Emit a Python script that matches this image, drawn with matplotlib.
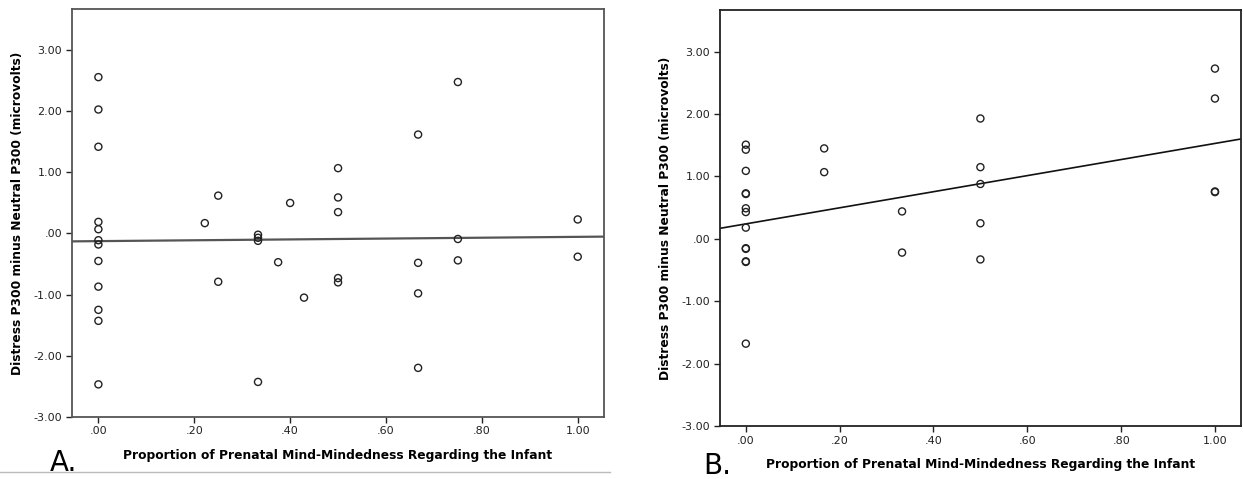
import numpy as np
import matplotlib
matplotlib.use('Agg')
import matplotlib.pyplot as plt
from matplotlib.lines import Line2D

# Panel A data
a_x = [0, 0, 0, 0, 0, 0, 0, 0, 0, 0, 0, 0,
       0.222, 0.25, 0.25, 0.333, 0.333, 0.333, 0.333,
       0.375, 0.40, 0.429,
       0.5, 0.5, 0.5, 0.5, 0.5,
       0.667, 0.667, 0.667, 0.667,
       0.75, 0.75, 0.75,
       1.0, 1.0]
a_y = [2.56, 2.03, 1.42, 0.19, 0.07, -0.11, -0.18, -0.45, -0.87, -1.25, -1.43, -2.47,
       0.17, 0.62, -0.79, -0.02, -0.07, -0.12, -2.43,
       -0.47, 0.50, -1.05,
       1.07, 0.59, 0.35, -0.73, -0.80,
       1.62, -0.48, -0.98, -2.20,
       2.48, -0.09, -0.44,
       0.23, -0.38]
a_fit = (0.07, -0.125)  # slope, intercept

# Panel B data
b_x = [0, 0, 0, 0, 0, 0, 0, 0, 0, 0, 0, 0, 0,
       0.167, 0.167, 0.333, 0.333,
       0.5, 0.5, 0.5, 0.5, 0.5,
       1.0, 1.0, 1.0, 1.0]
b_y = [1.51, 1.43, 1.09, 0.72, 0.73, 0.49, 0.43, 0.18, -0.15, -0.16, -0.36, -0.37, -1.68,
       1.45, 1.07, 0.44, -0.22,
       1.93, 1.15, 0.88, 0.25, -0.33,
       2.73, 2.25, 0.75, 0.76]
b_fit = (1.29, 0.24)

x_ticks = [0, 0.2, 0.4, 0.6, 0.8, 1.0]
x_labels = ['.00', '.20', '.40', '.60', '.80', '1.00']
y_ticks = [-3, -2, -1, 0, 1, 2, 3]
y_labels = ['-3.00', '-2.00', '-1.00', '.00', '1.00', '2.00', '3.00']

XLABEL = 'Proportion of Prenatal Mind-Mindedness Regarding the Infant'
YLABEL = 'Distress P300 minus Neutral P300 (microvolts)'

plt.rcParams['font.family'] = ['DejaVu Sans']

fig = plt.figure(figsize=(12.44, 4.79), dpi=100)


def draw_panel(ax, xs, ys, fit, frame_color, line_color, lw):
    ax.scatter(xs, ys, s=26, facecolors='none', edgecolors='#222222', linewidths=1.0, zorder=3)
    xlim = (-0.055, 1.055)
    ax.set_xlim(*xlim)
    ax.set_ylim(-3, 3.67)
    xx = np.array(xlim)
    ax.plot(xx, fit[0] * xx + fit[1], color=line_color, lw=lw, zorder=2)
    ax.set_xticks(x_ticks)
    ax.set_xticklabels(x_labels)
    ax.set_yticks(y_ticks)
    ax.set_yticklabels(y_labels)
    ax.tick_params(direction='out', length=4, width=1, labelsize=8, colors='#222222', pad=3)
    for sp in ax.spines.values():
        sp.set_color(frame_color)
        sp.set_linewidth(1.3)
    ax.set_xlabel(XLABEL, fontsize=8.8, fontweight='bold', labelpad=9)
    ax.set_ylabel(YLABEL, fontsize=8.8, fontweight='bold', labelpad=7)


ax1 = fig.add_axes([0.0579, 0.130, 0.4277, 0.8505])
draw_panel(ax1, a_x, a_y, a_fit, '#555555', '#555555', 1.6)

ax2 = fig.add_axes([0.5788, 0.1107, 0.4186, 0.8685])
draw_panel(ax2, b_x, b_y, b_fit, '#222222', '#111111', 1.2)

fig.text(50 / 1244, 1 - 471 / 479, 'A.', fontsize=20, va='baseline', ha='left')
fig.text(703 / 1244, 1 - 474 / 479, 'B.', fontsize=20, va='baseline', ha='left')

# thin grey rule under panel A
fig.add_artist(Line2D([0, 610 / 1244], [1 - 472 / 479, 1 - 472 / 479],
                      transform=fig.transFigure, color='#bbbbbb', lw=1))

fig.savefig('out.png', dpi=100)
